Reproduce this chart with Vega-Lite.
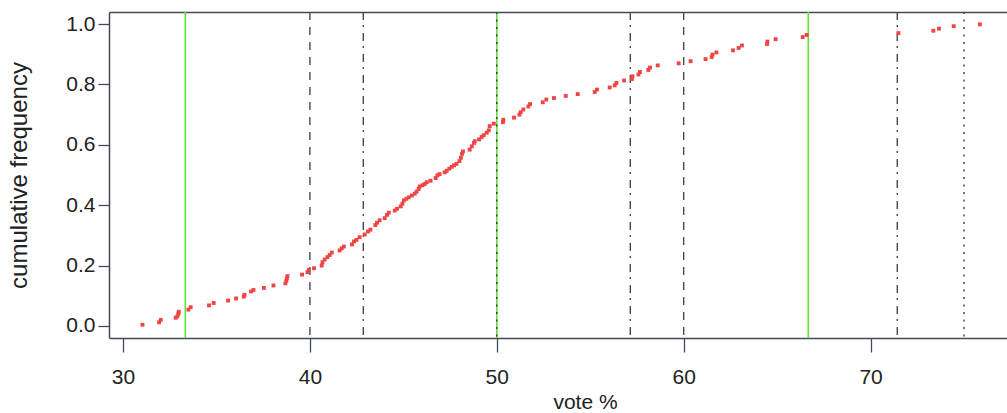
{
  "$schema": "https://vega.github.io/schema/vega-lite/v6.json",
  "width": 898,
  "height": 326,
  "autosize": {"type": "none"},
  "padding": {"left": 109, "top": 12, "right": 0, "bottom": 75},
  "background": "white",
  "config": {
    "view": {"stroke": null},
    "font": "Liberation Sans",
    "axis": {
      "grid": false,
      "domainColor": "#444a57",
      "domainWidth": 1.5,
      "tickColor": "#444a57",
      "tickWidth": 1.3,
      "labelColor": "#222222",
      "titleColor": "#222222",
      "labelFont": "Liberation Sans",
      "titleFont": "Liberation Sans",
      "labelFontSize": 21,
      "titleFontSize": 21,
      "titleFontWeight": "normal"
    }
  },
  "resolve": {"axis": {"x": "independent"}},
  "layer": [
    {
      "data": {"values": [{"v": 30}]},
      "mark": {"type": "point", "opacity": 0},
      "encoding": {
        "x": {
          "field": "v",
          "type": "quantitative",
          "scale": {"domain": [29.25, 77.3], "nice": false, "zero": false},
          "axis": {"orient": "top", "domain": true, "ticks": false, "labels": false, "title": null, "values": []}
        }
      }
    },
    {
      "data": {"values": [{"v": 33.333}, {"v": 50}, {"v": 66.667}]},
      "mark": {"type": "rule", "color": "#5fe33a", "strokeWidth": 1.6},
      "encoding": {
        "x": {
          "field": "v",
          "type": "quantitative",
          "scale": {"domain": [29.25, 77.3], "nice": false, "zero": false},
          "axis": {
            "orient": "bottom",
            "values": [30, 40, 50, 60, 70],
            "tickSize": 14,
            "labelPadding": 14,
            "labelFlush": false,
            "labelOverlap": false,
            "title": "vote %",
            "titlePadding": 4,
            "titleX": 476
          }
        }
      }
    },
    {
      "data": {"values": [{"v": 40}, {"v": 60}]},
      "mark": {"type": "rule", "color": "#444a57", "strokeWidth": 1.4, "strokeDash": [8, 7]},
      "encoding": {"x": {"field": "v", "type": "quantitative", "axis": null}}
    },
    {
      "data": {"values": [{"v": 42.857}, {"v": 57.143}, {"v": 71.429}]},
      "mark": {"type": "rule", "color": "#444a57", "strokeWidth": 1.4, "strokeDash": [8, 5, 2, 6]},
      "encoding": {"x": {"field": "v", "type": "quantitative", "axis": null}}
    },
    {
      "data": {"values": [{"v": 50}, {"v": 75}]},
      "mark": {"type": "rule", "color": "#333844", "strokeWidth": 1.4, "strokeDash": [2, 5.5]},
      "encoding": {"x": {"field": "v", "type": "quantitative", "axis": null}}
    },
    {
      "data": {"values": [
        {"v": 31.04, "f": 0.004}, {"v": 31.93, "f": 0.012}, {"v": 32.02, "f": 0.020}, {"v": 32.82, "f": 0.027},
        {"v": 32.91, "f": 0.032}, {"v": 32.96, "f": 0.040}, {"v": 32.98, "f": 0.047}, {"v": 33.50, "f": 0.054},
        {"v": 33.62, "f": 0.062}, {"v": 34.60, "f": 0.068}, {"v": 34.85, "f": 0.076}, {"v": 35.62, "f": 0.084},
        {"v": 36.05, "f": 0.091}, {"v": 36.46, "f": 0.097}, {"v": 36.50, "f": 0.103}, {"v": 36.85, "f": 0.114},
        {"v": 36.98, "f": 0.119}, {"v": 37.54, "f": 0.126}, {"v": 38.05, "f": 0.134}, {"v": 38.69, "f": 0.141},
        {"v": 38.74, "f": 0.150}, {"v": 38.77, "f": 0.158}, {"v": 38.80, "f": 0.165}, {"v": 39.58, "f": 0.170},
        {"v": 39.87, "f": 0.178}, {"v": 39.94, "f": 0.186}, {"v": 40.22, "f": 0.191}, {"v": 40.63, "f": 0.200},
        {"v": 40.67, "f": 0.211}, {"v": 40.79, "f": 0.220}, {"v": 40.94, "f": 0.228}, {"v": 41.06, "f": 0.235},
        {"v": 41.17, "f": 0.243}, {"v": 41.59, "f": 0.250}, {"v": 41.70, "f": 0.257}, {"v": 41.82, "f": 0.263},
        {"v": 42.25, "f": 0.270}, {"v": 42.36, "f": 0.280}, {"v": 42.49, "f": 0.285}, {"v": 42.66, "f": 0.294},
        {"v": 42.93, "f": 0.303}, {"v": 43.11, "f": 0.313}, {"v": 43.24, "f": 0.319}, {"v": 43.50, "f": 0.334},
        {"v": 43.59, "f": 0.342}, {"v": 43.73, "f": 0.350}, {"v": 44.00, "f": 0.357}, {"v": 44.13, "f": 0.368},
        {"v": 44.22, "f": 0.375}, {"v": 44.54, "f": 0.382}, {"v": 44.66, "f": 0.388}, {"v": 44.86, "f": 0.396},
        {"v": 44.95, "f": 0.405}, {"v": 45.03, "f": 0.416}, {"v": 45.16, "f": 0.421}, {"v": 45.29, "f": 0.426},
        {"v": 45.46, "f": 0.432}, {"v": 45.61, "f": 0.438}, {"v": 45.71, "f": 0.445}, {"v": 45.82, "f": 0.454},
        {"v": 45.87, "f": 0.462}, {"v": 46.02, "f": 0.466}, {"v": 46.14, "f": 0.470}, {"v": 46.25, "f": 0.476},
        {"v": 46.45, "f": 0.481}, {"v": 46.73, "f": 0.490}, {"v": 46.82, "f": 0.499}, {"v": 46.94, "f": 0.503},
        {"v": 47.21, "f": 0.509}, {"v": 47.32, "f": 0.514}, {"v": 47.46, "f": 0.521}, {"v": 47.59, "f": 0.527},
        {"v": 47.71, "f": 0.532}, {"v": 47.84, "f": 0.537}, {"v": 48.00, "f": 0.546}, {"v": 48.08, "f": 0.557},
        {"v": 48.14, "f": 0.570}, {"v": 48.19, "f": 0.578}, {"v": 48.55, "f": 0.584}, {"v": 48.66, "f": 0.595},
        {"v": 48.78, "f": 0.606}, {"v": 48.82, "f": 0.612}, {"v": 49.05, "f": 0.618}, {"v": 49.19, "f": 0.626},
        {"v": 49.30, "f": 0.632}, {"v": 49.46, "f": 0.640}, {"v": 49.57, "f": 0.648}, {"v": 49.62, "f": 0.662},
        {"v": 49.84, "f": 0.670}, {"v": 50.33, "f": 0.675}, {"v": 50.35, "f": 0.683}, {"v": 50.92, "f": 0.690},
        {"v": 51.21, "f": 0.700}, {"v": 51.28, "f": 0.708}, {"v": 51.42, "f": 0.717}, {"v": 51.69, "f": 0.727},
        {"v": 51.78, "f": 0.735}, {"v": 52.46, "f": 0.741}, {"v": 52.65, "f": 0.750}, {"v": 53.06, "f": 0.755},
        {"v": 53.69, "f": 0.762}, {"v": 54.33, "f": 0.768}, {"v": 55.24, "f": 0.775}, {"v": 55.36, "f": 0.783},
        {"v": 56.04, "f": 0.790}, {"v": 56.31, "f": 0.797}, {"v": 56.40, "f": 0.805}, {"v": 56.81, "f": 0.813},
        {"v": 57.23, "f": 0.818}, {"v": 57.26, "f": 0.827}, {"v": 57.58, "f": 0.833}, {"v": 57.66, "f": 0.841},
        {"v": 58.11, "f": 0.848}, {"v": 58.20, "f": 0.856}, {"v": 58.61, "f": 0.863}, {"v": 59.73, "f": 0.870},
        {"v": 60.37, "f": 0.877}, {"v": 61.17, "f": 0.884}, {"v": 61.50, "f": 0.891}, {"v": 61.54, "f": 0.899},
        {"v": 61.75, "f": 0.906}, {"v": 62.64, "f": 0.913}, {"v": 62.94, "f": 0.921}, {"v": 63.12, "f": 0.929},
        {"v": 64.46, "f": 0.934}, {"v": 64.48, "f": 0.942}, {"v": 64.92, "f": 0.950}, {"v": 66.37, "f": 0.957},
        {"v": 66.58, "f": 0.964}, {"v": 71.49, "f": 0.970}, {"v": 73.36, "f": 0.978}, {"v": 73.66, "f": 0.985},
        {"v": 74.45, "f": 0.993}, {"v": 75.85, "f": 0.999}
      ]},
      "mark": {"type": "square", "size": 15, "color": "#f04545", "filled": true, "opacity": 1},
      "encoding": {
        "x": {"field": "v", "type": "quantitative", "axis": null},
        "y": {
          "field": "f",
          "type": "quantitative",
          "scale": {"domain": [-0.04, 1.04], "nice": false, "zero": false},
          "axis": {
            "values": [0, 0.2, 0.4, 0.6, 0.8, 1],
            "format": ".1f",
            "tickSize": 11,
            "labelPadding": 3,
            "title": "cumulative frequency",
            "titleFontSize": 24,
            "titlePadding": 34
          }
        }
      }
    }
  ]
}
